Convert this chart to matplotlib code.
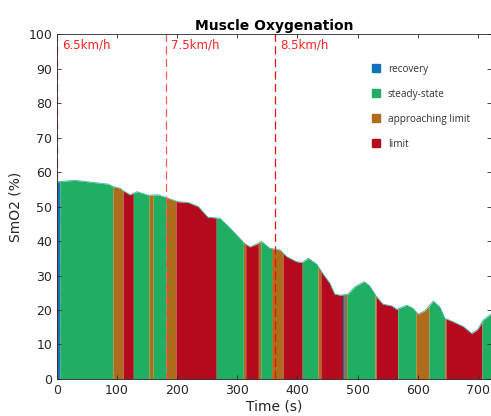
import matplotlib
matplotlib.use('Agg')
import matplotlib.pyplot as plt
import matplotlib.patches as mpatches
import numpy as np

# SmO2 curve
time = [0, 2, 30, 60, 85, 93, 105, 110, 118, 121, 133, 152, 168, 185, 201, 218,
        235, 251, 265, 271, 288, 304, 312, 321, 332, 340, 354, 371, 382, 393, 399,
        408, 418, 432, 442, 454, 462, 472, 484, 496, 511, 520, 531, 542, 557, 565,
        582, 592, 601, 612, 626, 637, 645, 659, 676, 690, 700, 709, 722]
smo2 = [57.2, 57.2, 57.6, 57, 56.5, 55.8, 55.3, 54.6, 53.8, 53.4, 54.3, 53.3, 53.4,
        52.4, 51.4, 51.2, 50, 46.9, 46.7, 46.6, 43.7, 40.8, 39.3, 38.3, 39.1, 39.9,
        37.9, 37.4, 35.5, 34.5, 34, 33.8, 35, 33.3, 30.6, 27.7, 24.6, 24.3, 24.6,
        26.8, 28.2, 27, 24, 21.7, 21.2, 20.2, 21.4, 20.5, 18.8, 19.8, 22.6, 20.8,
        17.6, 16.6, 15.2, 13.2, 14.4, 17.1, 18.8]

# state segments (start, end, state)
seg_start = [0, 5, 93, 110, 127, 153, 160, 182, 198, 265, 310, 314, 335, 339, 357,
             376, 408, 434, 439, 475, 478, 482, 529, 531, 567, 597, 619, 645, 647, 707]
seg_end = seg_start[1:] + [722]
seg_state = ['recovery', 'steady-state', 'approaching limit', 'limit', 'steady-state',
             'approaching limit', 'steady-state', 'approaching limit', 'limit',
             'steady-state', 'approaching limit', 'limit', 'approaching limit',
             'steady-state', 'approaching limit', 'limit', 'steady-state',
             'approaching limit', 'limit', 'recovery', 'approaching limit',
             'steady-state', 'approaching limit', 'limit', 'steady-state',
             'approaching limit', 'steady-state', 'approaching limit', 'limit',
             'steady-state']

states = ['recovery', 'steady-state', 'approaching limit', 'limit']
colors = {'recovery': '#0f72bb', 'steady-state': '#20ae62',
          'approaching limit': '#ad6d1c', 'limit': '#b50a1e'}

speed_times = [0, 181, 362]
speed_labels = ['6.5km/h', '7.5km/h', '8.5km/h']
speed_colors = ['#ff3030', '#ff5a5a', '#e81010']

fig = plt.figure(figsize=(4.91, 4.16), dpi=100)
ax = fig.add_axes([0.116, 0.089, 0.884, 0.829])

for s, e, st in zip(seg_start, seg_end, seg_state):
    xs = np.linspace(s, e, 40)
    ys = np.interp(xs, time, smo2)
    ax.fill_between(xs, 0, ys, color=colors[st], linewidth=0)

ax.plot(time, smo2, color='#3fb5a0', linewidth=0.6)

for t, lab, c in zip(speed_times, speed_labels, speed_colors):
    ax.axvline(t, color=c, linestyle=(0, (6.5, 3.5)), linewidth=0.9)
    ax.text(t + 9, 96.8, lab, color='#ff2020', fontsize=8.5, va='center', ha='left')

ax.set_xlim(0, 722)
ax.set_ylim(0, 100)
ax.set_xticks(range(0, 701, 100))
ax.set_yticks(range(0, 101, 10))
ax.tick_params(direction='in', top=True, right=True, labelsize=9, length=3,
               colors='#262626', width=0.6)
for sp in ax.spines.values():
    sp.set_linewidth(0.6)
    sp.set_color('#262626')

ax.set_title('Muscle Oxygenation', fontsize=10, fontweight='bold', pad=3)
ax.set_ylabel('SmO2 (%)', fontsize=10, color='#262626')
ax.set_xlabel('Time (s)', fontsize=10, color='#262626', labelpad=2)

handles = [mpatches.Patch(color=colors[s], label=s) for s in states]
leg = ax.legend(handles=handles, loc='upper left', bbox_to_anchor=(0.705, 0.94),
                frameon=False, handlelength=0.85, handleheight=0.85,
                labelspacing=1.4, handletextpad=0.75,
                prop={'family': 'Open Sans', 'size': 7.2})
for txt in leg.get_texts():
    txt.set_color('#333333')

fig.savefig('out.png', dpi=100)
